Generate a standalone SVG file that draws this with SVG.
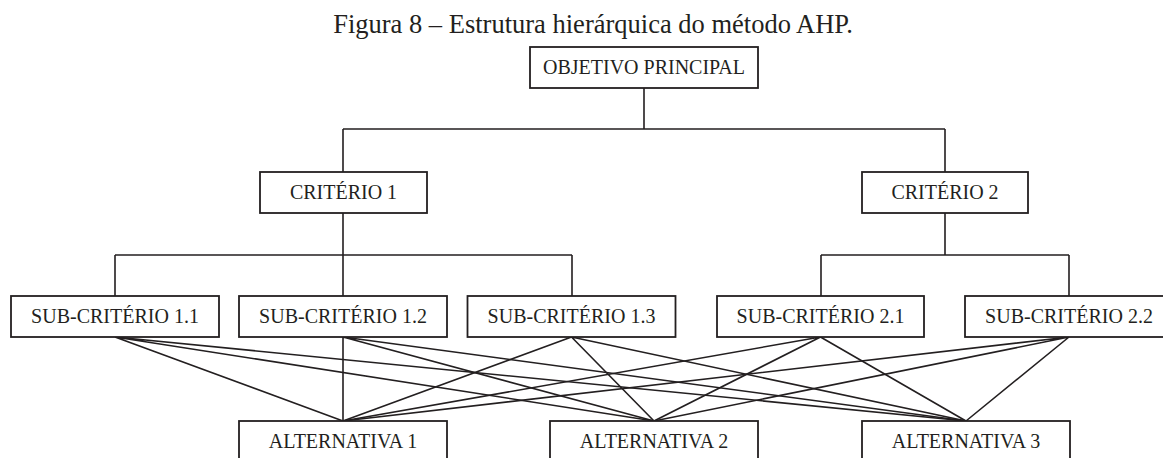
<svg xmlns="http://www.w3.org/2000/svg" width="1163" height="458" viewBox="0 0 1163 458">
<style>
.box{fill:#fff;stroke:#231f20;stroke-width:1.8}
.lbl{font-family:"Liberation Serif","Times New Roman",serif;font-size:20px;fill:#231f20;text-anchor:middle}
.ttl{font-family:"Liberation Serif","Times New Roman",serif;font-size:26.5px;fill:#231f20;text-anchor:middle}
.con{fill:none;stroke:#231f20;stroke-width:1.6}
</style>
<rect width="1163" height="458" fill="#fff"/>
<text class="ttl" x="593" y="32.5">Figura 8 – Estrutura hierárquica do método AHP.</text>
<g id="connectors" class="con">
<path d="M644 88V129M343 129H945M343 129V172M945 129V172"/>
<path d="M343 213V255M115 255H572M115 255V296M343 255V296M572 255V296"/>
<path d="M945 213V255M821 255H1069M821 255V296M1069 255V296"/>
<path d="M115 337L343 421M115 337L654 421M115 337L966 421"/>
<path d="M343 337L343 421M343 337L654 421M343 337L966 421"/>
<path d="M571.5 337L343 421M571.5 337L654 421M571.5 337L966 421"/>
<path d="M820.5 337L343 421M820.5 337L654 421M820.5 337L966 421"/>
<path d="M1069 337L343 421M1069 337L654 421M1069 337L966 421"/>
</g>
<g id="objetivo"><rect class="box" x="530" y="47" width="228" height="41"/><text class="lbl" x="644" y="74">OBJETIVO PRINCIPAL</text></g>
<g id="criterio1"><rect class="box" x="260" y="172" width="167" height="41"/><text class="lbl" x="343.5" y="199">CRITÉRIO 1</text></g>
<g id="criterio2"><rect class="box" x="862" y="172" width="166" height="41"/><text class="lbl" x="945" y="199">CRITÉRIO 2</text></g>
<g id="sub11"><rect class="box" x="11" y="296" width="208" height="41"/><text class="lbl" x="115" y="323">SUB-CRITÉRIO 1.1</text></g>
<g id="sub12"><rect class="box" x="239" y="296" width="208" height="41"/><text class="lbl" x="343" y="323">SUB-CRITÉRIO 1.2</text></g>
<g id="sub13"><rect class="box" x="467.5" y="296" width="208" height="41"/><text class="lbl" x="571.5" y="323">SUB-CRITÉRIO 1.3</text></g>
<g id="sub21"><rect class="box" x="717" y="296" width="207" height="41"/><text class="lbl" x="820.5" y="323">SUB-CRITÉRIO 2.1</text></g>
<g id="sub22"><rect class="box" x="965" y="296" width="208" height="41"/><text class="lbl" x="1069" y="323">SUB-CRITÉRIO 2.2</text></g>
<g id="alt1"><rect class="box" x="239" y="421" width="208" height="41"/><text class="lbl" x="343" y="447.5">ALTERNATIVA 1</text></g>
<g id="alt2"><rect class="box" x="550" y="421" width="208" height="41"/><text class="lbl" x="654" y="447.5">ALTERNATIVA 2</text></g>
<g id="alt3"><rect class="box" x="862" y="421" width="208" height="41"/><text class="lbl" x="966" y="447.5">ALTERNATIVA 3</text></g>
</svg>
